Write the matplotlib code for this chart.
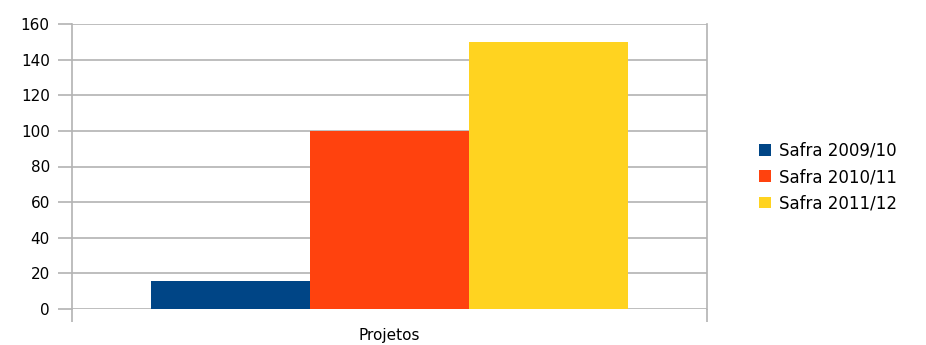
import matplotlib
matplotlib.use("Agg")
import matplotlib.pyplot as plt
import numpy as np

categories = ["Projetos"]
series = ["Safra 2009/10", "Safra 2010/11", "Safra 2011/12"]
values = [16, 100, 150]
colors = ["#004586", "#ff420e", "#ffd320"]
yticks = [0, 20, 40, 60, 80, 100, 120, 140, 160]

fig = plt.figure(figsize=(9.26, 3.45), dpi=100)
ax = fig.add_axes([72/926, 1-309/345, (707-72)/926, (309-24)/345])

n = len(series)
width = 1.0 / (n + 1)
x = np.arange(len(categories))
for i, (name, v, c) in enumerate(zip(series, values, colors)):
    ax.bar(x + (i - (n - 1) / 2) * width, [v], width=width, color=c, label=name, zorder=2)

grid_c = "#b3b3b3"
ax.set_xlim(-0.5, 0.5)
ax.set_ylim(0, 160)
ax.set_yticks(yticks)
ax.yaxis.grid(True, color=grid_c, linewidth=1.2, zorder=0)
ax.set_axisbelow(True)
ax.tick_params(axis="y", length=10, width=1.2, color=grid_c, labelsize=11, pad=6)
ax.set_xticks(x)
ax.set_xticklabels(categories)
ax.set_xticks([-0.5, 0.5], minor=True)
ax.tick_params(axis="x", which="major", length=0, labelsize=11, pad=14)
ax.tick_params(axis="x", which="minor", length=9, width=1.2, color=grid_c)
for s in ["left", "right"]:
    ax.spines[s].set_color(grid_c)
    ax.spines[s].set_linewidth(1.2)
for s in ["top", "bottom"]:
    ax.spines[s].set_visible(False)

leg = fig.legend(loc="center left", bbox_to_anchor=(744/926, 1-177/345), frameon=False,
                 fontsize=12, handlelength=0.7, handleheight=0.7, handletextpad=0.5,
                 labelspacing=0.5)

fig.savefig("out.png", dpi=100)
